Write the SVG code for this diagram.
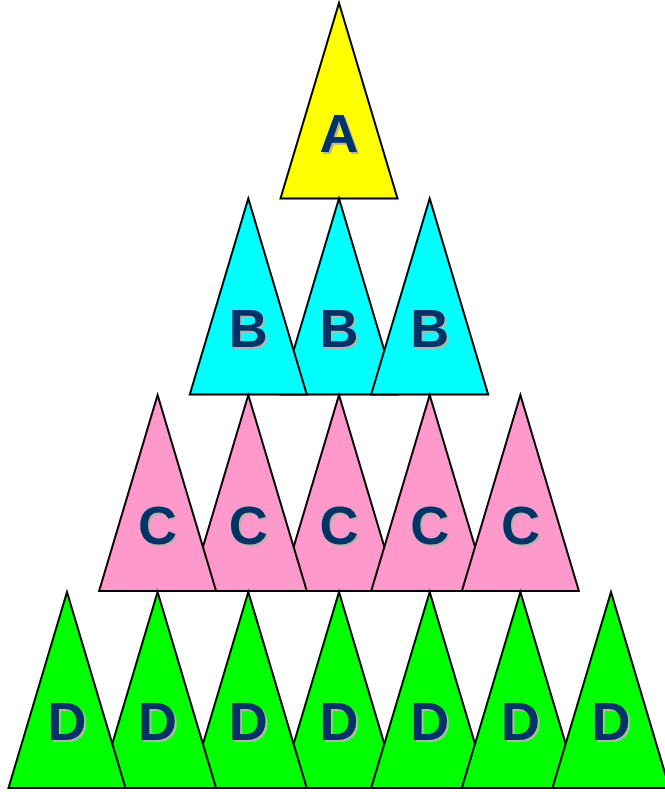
<svg xmlns="http://www.w3.org/2000/svg" width="665" height="792" viewBox="0 0 665 792">
<style>
.t{stroke:#000;stroke-width:2;stroke-linejoin:miter}
.a{fill:#FFFF00}.b{fill:#00FFFF}.c{fill:#FF99CC}.d{fill:#00FF00}
.l{font-family:"Liberation Sans",Arial,sans-serif;font-weight:bold;font-size:54px;text-anchor:middle;fill:#003366}
.s{font-family:"Liberation Sans",Arial,sans-serif;font-weight:bold;font-size:54px;text-anchor:middle;fill:#B3B3B3}
</style>
<rect width="665" height="792" fill="#fff"/>
<g id="nodeA"><polygon class="t a" points="339,3 397.5,198.5 280.5,198.5"/><text class="s" x="341" y="154">A</text><text class="l" x="339" y="152">A</text></g>
<g id="nodeB2"><polygon class="t b" points="339,198.5 397.5,394.5 280.5,394.5"/><text class="s" x="341" y="349">B</text><text class="l" x="339" y="347">B</text></g>
<g id="nodeB1"><polygon class="t b" points="248.3,198.5 306.8,394.5 189.8,394.5"/><text class="s" x="250.3" y="349">B</text><text class="l" x="248.3" y="347">B</text></g>
<g id="nodeB3"><polygon class="t b" points="429.7,198.5 488.2,394.5 371.2,394.5"/><text class="s" x="431.7" y="349">B</text><text class="l" x="429.7" y="347">B</text></g>
<g id="nodeC3"><polygon class="t c" points="339,395 397.5,591 280.5,591"/><text class="s" x="341" y="546">C</text><text class="l" x="339" y="544">C</text></g>
<g id="nodeC2"><polygon class="t c" points="248.3,395 306.8,591 189.8,591"/><text class="s" x="250.3" y="546">C</text><text class="l" x="248.3" y="544">C</text></g>
<g id="nodeC4"><polygon class="t c" points="429.7,395 488.2,591 371.2,591"/><text class="s" x="431.7" y="546">C</text><text class="l" x="429.7" y="544">C</text></g>
<g id="nodeC1"><polygon class="t c" points="157.6,395 216.1,591 99.1,591"/><text class="s" x="159.6" y="546">C</text><text class="l" x="157.6" y="544">C</text></g>
<g id="nodeC5"><polygon class="t c" points="520.4,395 578.9,591 461.9,591"/><text class="s" x="522.4" y="546">C</text><text class="l" x="520.4" y="544">C</text></g>
<g id="nodeD4"><polygon class="t d" points="339,592 397.5,788 280.5,788"/><text class="s" x="341" y="742">D</text><text class="l" x="339" y="740">D</text></g>
<g id="nodeD3"><polygon class="t d" points="248.3,592 306.8,788 189.8,788"/><text class="s" x="250.3" y="742">D</text><text class="l" x="248.3" y="740">D</text></g>
<g id="nodeD5"><polygon class="t d" points="429.7,592 488.2,788 371.2,788"/><text class="s" x="431.7" y="742">D</text><text class="l" x="429.7" y="740">D</text></g>
<g id="nodeD2"><polygon class="t d" points="157.6,592 216.1,788 99.1,788"/><text class="s" x="159.6" y="742">D</text><text class="l" x="157.6" y="740">D</text></g>
<g id="nodeD6"><polygon class="t d" points="520.4,592 578.9,788 461.9,788"/><text class="s" x="522.4" y="742">D</text><text class="l" x="520.4" y="740">D</text></g>
<g id="nodeD1"><polygon class="t d" points="67,592 125.5,788 8.5,788"/><text class="s" x="69" y="742">D</text><text class="l" x="67" y="740">D</text></g>
<g id="nodeD7"><polygon class="t d" points="611,592 669.5,788 552.5,788"/><text class="s" x="613" y="742">D</text><text class="l" x="611" y="740">D</text></g>
<g id="connectors"></g>
</svg>
